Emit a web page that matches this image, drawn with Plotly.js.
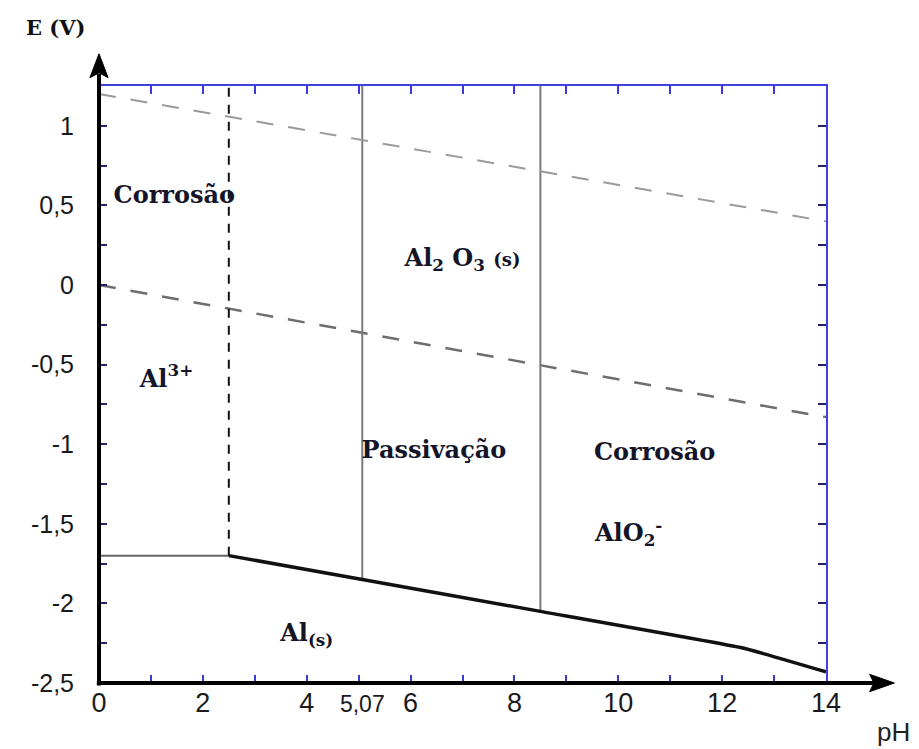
<!DOCTYPE html>
<html>
<head>
<meta charset="utf-8">
<script src="https://cdn.plot.ly/plotly-3.0.1.min.js"></script>
<style>html,body{margin:0;padding:0;background:#fff;}#chart{width:919px;height:749px;}</style>
</head>
<body>
<div id="chart"></div>
<script>
// ---- data ----
const pHWater = [0, 14];
const E_O2 = [1.20, 0.40];          // upper dashed line (O2/H2O)
const E_H2 = [0.00, -0.83];         // lower dashed line (H+/H2)
const pHAl3Al = [0, 2.5];
const E_Al3Al = [-1.70, -1.70];
const pHOxAl = [2.5, 5.07, 8.5, 12.4, 14];
const E_OxAl = [-1.70, -1.85, -2.05, -2.28, -2.43];
const pHAl3Ox = [2.5, 2.5];
const E_Al3Ox = [-1.70, 1.25];
const pHPass1 = [5.07, 5.07];
const E_Pass1 = [-1.85, 1.25];
const pHPass2 = [8.5, 8.5];
const E_Pass2 = [-2.05, 1.25];

const xTickVals = [0,1,2,3,4,5,6,7,8,9,10,11,12,13,14];
const xLabelVals = [0, 2, 4, 5.07, 6, 8, 10, 12, 14];
const xLabelText = ['0', '2', '4', '<span style="font-size:23px">5,07</span>', '6', '8', '10', '12', '14'];
const yLabelVals = [-2.5, -2, -1.5, -1, -0.5, 0, 0.5, 1];
const yLabelText = ['-2,5', '-2', '-1,5', '-1', '-0,5', '0', '0,5', '1'];

const regionText = ['Corrosão', 'Al<sup>3+</sup>', 'Al<sub>2</sub> O<sub>3</sub> <span style="font-size:18px">(s)</span>', 'Passivação', 'Corrosão', 'AlO<sub>2</sub><sup>-</sup>', 'Al<sub>(s)</sub>'];
const regionX = [1.45, 1.3, 7.0, 6.45, 10.7, 10.2, 4.0];
const regionY = [0.55, -0.60, 0.16, -1.05, -1.06, -1.57, -2.20];

const serif = 'DejaVu Serif, Liberation Serif, serif';
const sans = 'Liberation Sans, Arial, sans-serif';

const traces = [
  {x: pHWater, y: E_O2, xaxis: 'x2', mode: 'lines', line: {color: '#9a9a9a', width: 2, dash: '17px,15px'}, hoverinfo: 'skip'},
  {x: pHWater, y: E_H2, mode: 'lines', line: {color: '#6e6e6e', width: 2.5, dash: '17px,15px'}, hoverinfo: 'skip'},
  {x: pHAl3Al, y: E_Al3Al, mode: 'lines', line: {color: '#666666', width: 2}, hoverinfo: 'skip'},
  {x: pHAl3Ox, y: E_Al3Ox, mode: 'lines', line: {color: '#111111', width: 2, dash: '9px,8px'}, hoverinfo: 'skip'},
  {x: pHPass1, y: E_Pass1, mode: 'lines', line: {color: '#7a7a7a', width: 2}, hoverinfo: 'skip'},
  {x: pHPass2, y: E_Pass2, mode: 'lines', line: {color: '#7a7a7a', width: 2}, hoverinfo: 'skip'},
  {x: pHOxAl, y: E_OxAl, mode: 'lines', line: {color: '#111111', width: 3.5, shape: 'spline', smoothing: 0.3}, hoverinfo: 'skip'},
  {x: regionX, y: regionY, mode: 'text', text: regionText, textposition: 'middle center',
   textfont: {family: serif, size: 24, color: '#15152a', weight: 'bold'}, hoverinfo: 'skip'}
];

const layout = {
  width: 919, height: 749,
  margin: {l: 99, r: 93, t: 86, b: 66},
  paper_bgcolor: '#ffffff', plot_bgcolor: '#ffffff',
  showlegend: false,
  xaxis: {
    range: [0, 14], tickmode: 'array', tickvals: xTickVals, showticklabels: false,
    ticks: 'inside', ticklen: 8, tickwidth: 2, tickcolor: '#3a3ad6',
    showline: true, linecolor: '#4040dd', linewidth: 2, mirror: 'ticks',
    showgrid: false, zeroline: false, fixedrange: true
  },
  xaxis2: {
    range: [0, 14], overlaying: 'x', anchor: 'y', side: 'bottom',
    tickmode: 'array', tickvals: xLabelVals, ticktext: xLabelText, ticks: '',
    tickfont: {family: sans, size: 27, color: '#1a1a1a'}, ticklabelstandoff: 1,
    showline: false, showgrid: false, zeroline: false, fixedrange: true
  },
  yaxis: {
    range: [-2.5, 1.25], tickmode: 'array', tickvals: yLabelVals, ticktext: yLabelText,
    ticks: 'inside', ticklen: 8, tickwidth: 2, tickcolor: '#22226a',
    minor: {tickmode: 'linear', tick0: -2.5, dtick: 0.25, ticks: 'inside', ticklen: 8, tickwidth: 2, tickcolor: '#22226a'},
    tickfont: {family: sans, size: 25, color: '#1a1a1a'}, ticklabelstandoff: 18,
    showline: true, linecolor: '#4040dd', linewidth: 2, mirror: 'ticks',
    showgrid: false, zeroline: false, fixedrange: true
  },
  shapes: [
    // black left axis with arrow
    {type: 'line', xref: 'paper', yref: 'paper', x0: 0, x1: 0, y0: -0.004, y1: 1.02, line: {color: '#000000', width: 4}},
    {type: 'path', xref: 'paper', yref: 'paper', path: 'M 0 1.054 L -0.0125 1.014 L 0 1.022 L 0.0125 1.014 Z', fillcolor: '#000000', line: {color: '#000000', width: 1}},
    // black bottom axis with arrow
    {type: 'line', xref: 'paper', yref: 'paper', x0: -0.003, x1: 1.068, y0: 0, y1: 0, line: {color: '#000000', width: 4}},
    {type: 'path', xref: 'paper', yref: 'paper', path: 'M 1.094 0 L 1.060 -0.0145 L 1.066 0 L 1.060 0.0145 Z', fillcolor: '#000000', line: {color: '#000000', width: 1}}
  ],
  annotations: [
    {xref: 'paper', yref: 'paper', x: -0.06, y: 1.098, xanchor: 'center', yanchor: 'middle',
     text: '<b>E (V)</b>', showarrow: false, font: {family: serif, size: 21, color: '#111111'}},
    {xref: 'paper', yref: 'paper', x: 1.093, y: -0.082, xanchor: 'center', yanchor: 'middle',
     text: 'pH', showarrow: false, font: {family: sans, size: 26, color: '#222222'}}
  ]
};

Plotly.newPlot('chart', traces, layout, {staticPlot: true, displayModeBar: false});
</script>
</body>
</html>
